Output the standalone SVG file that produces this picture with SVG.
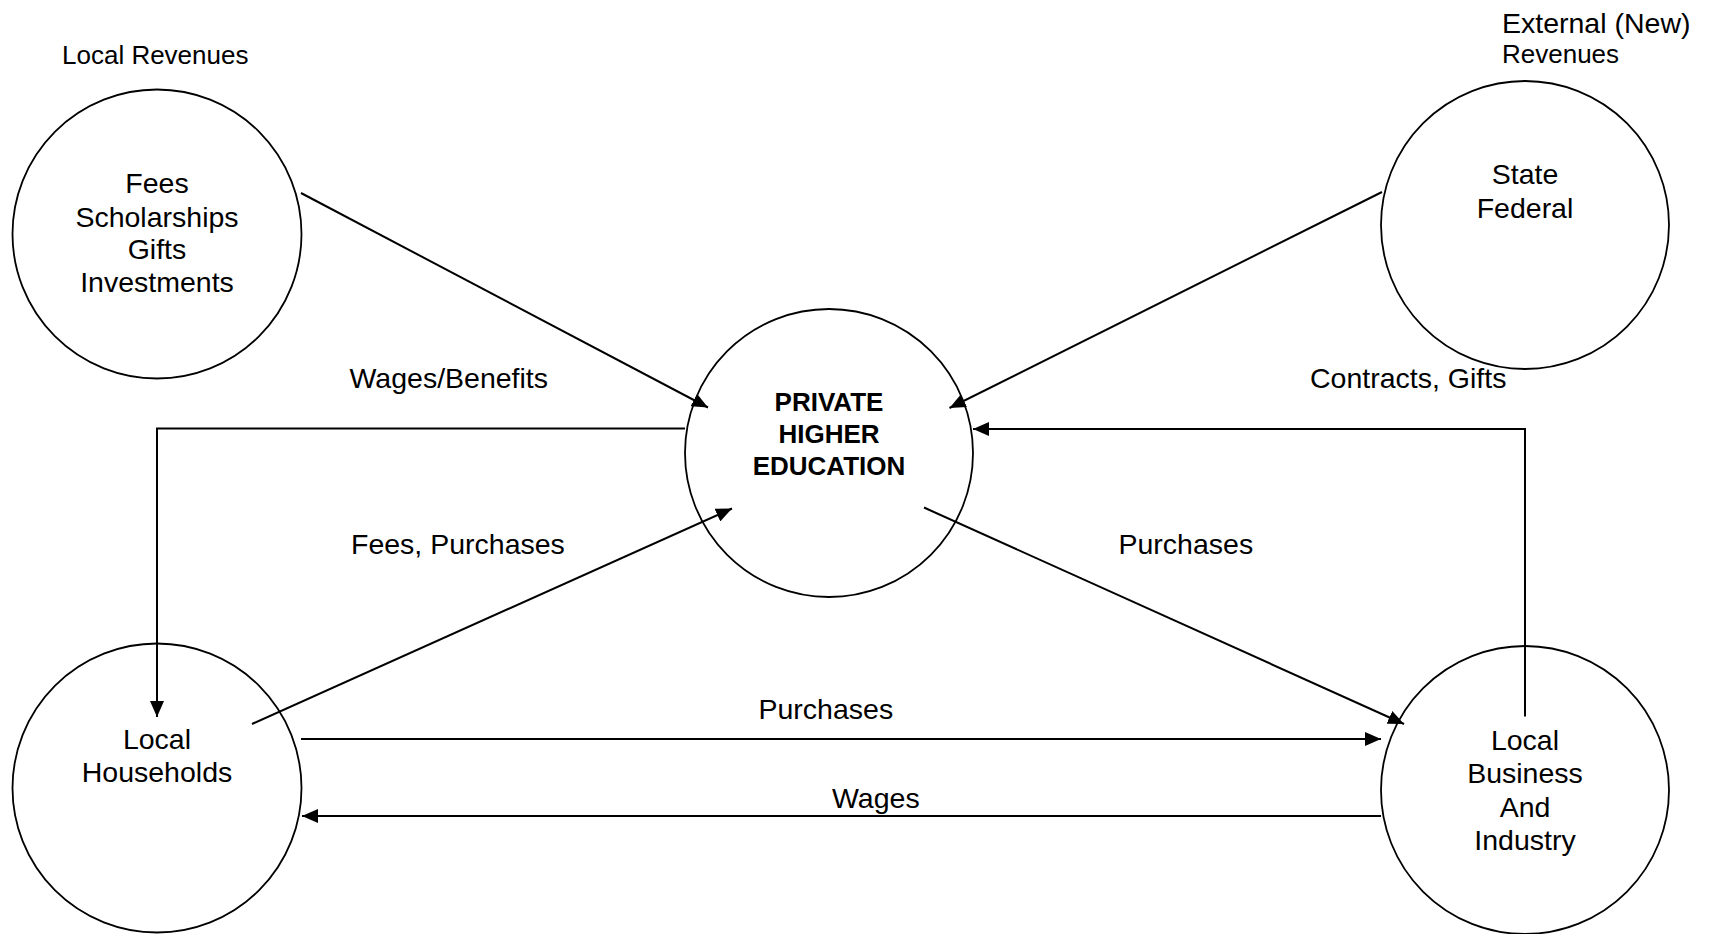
<svg xmlns="http://www.w3.org/2000/svg" width="1712" height="934" viewBox="0 0 1712 934">
<style>
  .node circle { fill: #fff; stroke: #000; stroke-width: 1.8; }
  text { font-family: "Liberation Sans", Arial, sans-serif; fill: #000; }
  .nt { font-size: 28.5px; text-anchor: middle; }
  .bt { font-size: 26px; font-weight: bold; text-anchor: middle; }
  .lbl { font-size: 28.5px; }
  .hdr { font-size: 26px; }
  .conn line, .conn polyline { fill: none; stroke: #000; stroke-width: 2; marker-end: url(#ah); }
</style>
<defs>
  <marker id="ah" markerUnits="userSpaceOnUse" markerWidth="17" markerHeight="14" refX="16" refY="7" orient="auto">
    <path d="M0,0 L16,7 L0,14 z" fill="#000"/>
  </marker>
</defs>
<rect width="1712" height="934" fill="#fff"/>

<text class="hdr" x="62" y="64">Local Revenues</text>
<text class="lbl" x="1502" y="33">External (New)</text>
<text class="hdr" x="1502" y="63">Revenues</text>

<g id="local-revenues" class="node">
  <circle cx="157" cy="234" r="144.5"/>
  <text class="nt" x="157" y="193">Fees</text>
  <text class="nt" x="157" y="226.5">Scholarships</text>
  <text class="nt" x="157" y="259">Gifts</text>
  <text class="nt" x="157" y="292">Investments</text>
</g>

<g id="external-revenues" class="node">
  <circle cx="1525" cy="225" r="144"/>
  <text class="nt" x="1525" y="184">State</text>
  <text class="nt" x="1525" y="217.5">Federal</text>
</g>

<g id="private-higher-education" class="node">
  <circle cx="829" cy="453" r="144"/>
  <text class="bt" x="829" y="410.5">PRIVATE</text>
  <text class="bt" x="829" y="443">HIGHER</text>
  <text class="bt" x="829" y="475">EDUCATION</text>
</g>

<g id="local-households" class="node">
  <circle cx="157" cy="788" r="144.5"/>
  <text class="nt" x="157" y="748.5">Local</text>
  <text class="nt" x="157" y="781.5">Households</text>
</g>

<g id="local-business" class="node">
  <circle cx="1525" cy="790" r="144"/>
  <text class="nt" x="1525" y="750">Local</text>
  <text class="nt" x="1525" y="783.3">Business</text>
  <text class="nt" x="1525" y="816.7">And</text>
  <text class="nt" x="1525" y="850">Industry</text>
</g>

<g id="connectors" class="conn">
  <line x1="301" y1="193" x2="708" y2="407.5"/>
  <line x1="1382" y1="192" x2="949.5" y2="408"/>
  <polyline points="685,428.5 157,428.5 157,717"/>
  <polyline points="1525,716.5 1525,429 973,429"/>
  <line x1="252" y1="724" x2="732" y2="508.5"/>
  <line x1="924" y1="507.5" x2="1404" y2="724"/>
  <line x1="301" y1="739" x2="1381" y2="739"/>
  <line x1="1381" y1="816" x2="302" y2="816"/>
</g>

<g id="labels">
  <text class="lbl" x="349.5" y="388.3">Wages/Benefits</text>
  <text class="lbl" x="1310" y="387.5">Contracts, Gifts</text>
  <text class="lbl" x="351" y="554.3">Fees, Purchases</text>
  <text class="lbl" x="1118.5" y="554.3">Purchases</text>
  <text class="lbl" x="758.5" y="719.3">Purchases</text>
  <text class="lbl" x="832" y="807.5">Wages</text>
</g>
</svg>
